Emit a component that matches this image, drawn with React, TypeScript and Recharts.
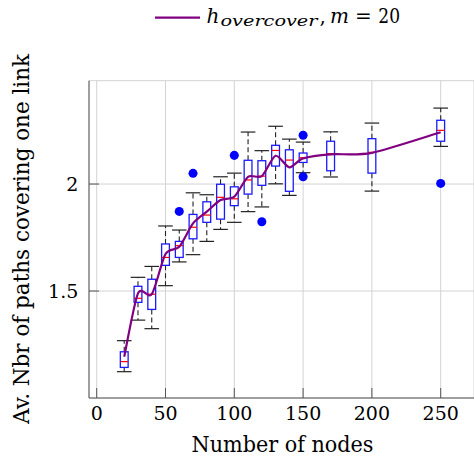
import React from 'react';
import { ComposedChart, XAxis, YAxis, CartesianGrid, Line, Scatter, ReferenceLine, Label } from 'recharts';

// Number of nodes (box positions)
const nodes = [20, 30, 40, 50, 60, 70, 80, 90, 100, 110, 120, 130, 140, 150, 170, 200, 250];
const whiskerLow = [1.123, 1.364, 1.324, 1.525, 1.636, 1.670, 1.732, 1.788, 1.821, 1.871, 1.893, 2.001, 1.947, 2.053, 2.033, 1.967, 2.176];
const lowerQuartile = [1.143, 1.447, 1.414, 1.620, 1.657, 1.744, 1.821, 1.836, 1.899, 1.953, 1.994, 2.084, 1.966, 2.101, 2.062, 2.051, 2.200];
const medians = [1.170, 1.466, 1.485, 1.657, 1.712, 1.798, 1.855, 1.938, 1.931, 2.019, 2.037, 2.157, 2.112, 2.123, 2.142, 2.148, 2.251];
const upperQuartile = [1.216, 1.522, 1.555, 1.720, 1.732, 1.858, 1.917, 1.999, 1.987, 2.111, 2.109, 2.181, 2.160, 2.145, 2.200, 2.212, 2.298];
const whiskerHigh = [1.268, 1.564, 1.615, 1.804, 1.785, 1.959, 1.950, 2.034, 2.051, 2.243, 2.156, 2.270, 2.210, 2.196, 2.244, 2.285, 2.355];
// h_overcover, m = 20 (line)
const means = [1.193, 1.489, 1.485, 1.673, 1.707, 1.816, 1.871, 1.925, 1.941, 2.034, 2.037, 2.132, 2.078, 2.120, 2.139, 2.146, 2.242];
// outliers
const outlierNodes = [60, 70, 100, 120, 150, 150, 250];
const outlierValues = [1.872, 2.050, 2.134, 1.824, 2.228, 2.034, 2.003];

const xTicks = [0, 50, 100, 150, 200, 250];
const yTicks = [1.5, 2];
const xDomain = [-5.6, 274.2];
const yDomain = [1.0, 2.483];

const boxes = nodes.map((x, i) => ({
  x,
  low: whiskerLow[i],
  q1: lowerQuartile[i],
  median: medians[i],
  q3: upperQuartile[i],
  high: whiskerHigh[i],
}));
const meanData = nodes.map((x, i) => ({ x, y: means[i] }));
const outlierData = outlierNodes.map((x, i) => ({ x, y: outlierValues[i] }));

const FONT = '"DejaVu Serif", serif';
const FRAME = '#555555';

function cardinalCurve(k: number) {
  return (context: any) => {
    let pts: number[][] = [];
    return {
      areaStart() {},
      areaEnd() {},
      lineStart() {
        pts = [];
      },
      point(x: number, y: number) {
        pts.push([+x, +y]);
      },
      lineEnd() {
        const n = pts.length;
        if (!n) return;
        context.moveTo(pts[0][0], pts[0][1]);
        if (n === 1) return;
        for (let i = 0; i < n - 1; i++) {
          const p0 = pts[i - 1] || pts[i];
          const p1 = pts[i];
          const p2 = pts[i + 1];
          const p3 = pts[i + 2] || pts[i + 1];
          context.bezierCurveTo(
            p1[0] + k * (p2[0] - p0[0]),
            p1[1] + k * (p2[1] - p0[1]),
            p2[0] - k * (p3[0] - p1[0]),
            p2[1] - k * (p3[1] - p1[1]),
            p2[0],
            p2[1]
          );
        }
      },
    };
  };
}

function BoxGlyph(props: any) {
  const { x1, y1, y2, box } = props;
  if (x1 == null || y1 == null || y2 == null) return null;
  const cx = x1;
  const pix = (v: number) => y1 + ((y2 - y1) * (v - box.low)) / (box.high - box.low);
  const yq1 = pix(box.q1);
  const yq3 = pix(box.q3);
  const ym = pix(box.median);
  const bw = 3.9;
  const cap = 7.3;
  return (
    <g>
      <line x1={cx} x2={cx} y1={yq3} y2={y2} stroke="#222" strokeWidth={1.1} strokeDasharray="5 3" />
      <line x1={cx} x2={cx} y1={yq1} y2={y1} stroke="#222" strokeWidth={1.1} strokeDasharray="5 3" />
      <line x1={cx - cap} x2={cx + cap} y1={y2} y2={y2} stroke="#222" strokeWidth={1.2} />
      <line x1={cx - cap} x2={cx + cap} y1={y1} y2={y1} stroke="#222" strokeWidth={1.2} />
      <rect x={cx - bw} y={yq3} width={2 * bw} height={yq1 - yq3} fill="#ffffff" stroke="#1a1aff" strokeWidth={1.3} />
      <line x1={cx - bw} x2={cx + bw} y1={ym} y2={ym} stroke="#ff0000" strokeWidth={1.2} />
    </g>
  );
}

export default function App() {
  return (
    <div style={{ position: 'absolute', left: 0, top: 0, width: 474, height: 459, fontFamily: FONT }}>
      <ComposedChart
        width={474}
        height={459}
        margin={{ top: 80.7, right: 0, bottom: 31, left: 29 }}
        style={{ fontFamily: FONT }}
      >
        <CartesianGrid stroke="#d3d3d3" strokeWidth={1} />
        <XAxis
          xAxisId="top"
          orientation="top"
          type="number"
          dataKey="x"
          domain={xDomain}
          allowDataOverflow
          ticks={xTicks}
          height={0}
          tick={false}
          tickSize={-10}
          stroke={FRAME}
          axisLine={{ stroke: FRAME }}
          tickLine={{ stroke: FRAME }}
        />
        <XAxis
          type="number"
          dataKey="x"
          domain={xDomain}
          allowDataOverflow
          ticks={xTicks}
          interval={0}
          height={30}
          tickSize={-10}
          tickMargin={19}
          axisLine={{ stroke: FRAME }}
          tickLine={{ stroke: FRAME }}
          tick={{ fill: '#000', fontSize: 19, fontFamily: FONT }}
        >
          <Label
            content={() => (
              <text
                x={282.5}
                y={451.7}
                textAnchor="middle"
                fontFamily={FONT}
                fontSize={22}
                fill="#000"
                textLength={182}
                lengthAdjust="spacingAndGlyphs"
              >
                Number of nodes
              </text>
            )}
          />
        </XAxis>
        <YAxis
          type="number"
          domain={yDomain}
          allowDataOverflow
          ticks={yTicks}
          interval={0}
          width={60}
          tickSize={-10}
          tickMargin={20.7}
          tickFormatter={(v: number) => String(v)}
          axisLine={{ stroke: FRAME }}
          tickLine={{ stroke: FRAME }}
          tick={{ fill: '#000', fontSize: 19, fontFamily: FONT }}
        >
          <Label
            content={() => (
              <text
                x={29}
                y={239}
                transform="rotate(-90 29 239)"
                textAnchor="middle"
                fontFamily={FONT}
                fontSize={22}
                fill="#000"
                textLength={370}
                lengthAdjust="spacingAndGlyphs"
              >
                Av. Nbr of paths covering one link
              </text>
            )}
          />
        </YAxis>
        {boxes.map((b, i) => (
          <ReferenceLine
            key={'box' + i}
            segment={[
              { x: b.x, y: b.low },
              { x: b.x, y: b.high },
            ]}
            ifOverflow="visible"
            shape={(p: any) => <BoxGlyph {...p} box={b} />}
          />
        ))}
        <Scatter data={outlierData} dataKey="y" fill="#0000ff" isAnimationActive={false} />
        <Line
          data={meanData}
          dataKey="y"
          type={cardinalCurve(0.13) as any}
          stroke="#800080"
          strokeWidth={2.2}
          dot={false}
          activeDot={false}
          isAnimationActive={false}
        />
      </ComposedChart>
      <svg
        width={474}
        height={40}
        style={{ position: 'absolute', left: 0, top: 0, pointerEvents: 'none' }}
      >
        <line x1={155} x2={200} y1={17.7} y2={17.7} stroke="#800080" strokeWidth={2.2} />
        <text x={206.5} y={23.3} fontFamily={FONT} fontStyle="italic" fontSize={20} fill="#000">
          h
        </text>
        <text
          x={220.5}
          y={26}
          fontFamily={FONT}
          fontStyle="italic"
          fontSize={15}
          fill="#000"
          textLength={97}
          lengthAdjust="spacingAndGlyphs"
        >
          overcover
        </text>
        <text x={319.5} y={23.3} fontFamily={FONT} fontSize={20} fill="#000">
          ,
        </text>
        <text x={330} y={23.3} fontFamily={FONT} fontStyle="italic" fontSize={20} fill="#000">
          m
        </text>
        <text x={355} y={23.3} fontFamily={FONT} fontSize={20} fill="#000">
          =
        </text>
        <text x={378.3} y={23.3} fontFamily={FONT} fontSize={20} fill="#000" textLength={21.7} lengthAdjust="spacingAndGlyphs">
          20
        </text>
      </svg>
    </div>
  );
}
